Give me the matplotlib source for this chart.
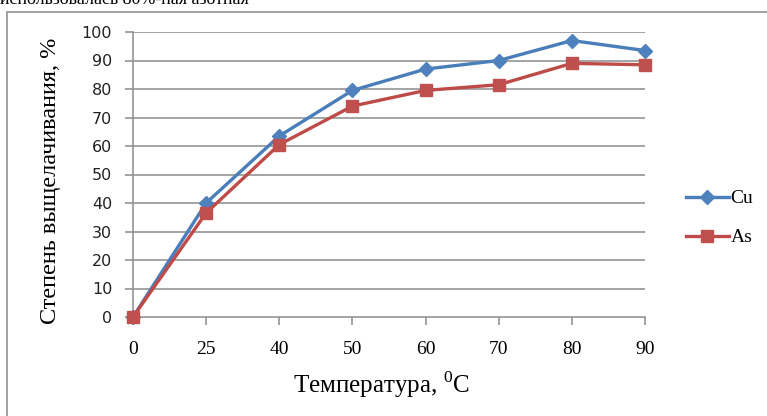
import matplotlib
matplotlib.use("Agg")
import matplotlib.pyplot as plt
from matplotlib.patches import Rectangle
from matplotlib.lines import Line2D

# Leaching temperature (°C) and degree of leaching (%)
temperatures = ["0", "25", "40", "50", "60", "70", "80", "90"]
cu_values = [0, 40, 63.5, 79.5, 87, 90, 97, 93.5]
as_values = [0, 36.5, 60.5, 74, 79.5, 81.5, 89, 88.5]
y_ticks = [0, 10, 20, 30, 40, 50, 60, 70, 80, 90, 100]

plt.rcParams["mathtext.fontset"] = "custom"
plt.rcParams["mathtext.rm"] = "Liberation Serif"
serif = ["Liberation Serif", "DejaVu Serif"]

fig = plt.figure(figsize=(7.67, 4.16), dpi=100)
fig.patch.set_facecolor("white")

# surrounding frame of the chart object
fig.add_artist(Rectangle((7 / 767, -0.1), 1.2, 1 - 12 / 416 + 0.1,
                         transform=fig.transFigure, fill=False,
                         edgecolor="#9a9a9a", linewidth=1.3))

# text line of the page above the chart
fig.text(0.0, 1 - 4 / 416, "использовалась 80%-ная азотная",
         family=serif, fontsize=13, va="baseline", ha="left", color="black")

ax = fig.add_axes([133 / 767, 1 - 317 / 416, (645 - 133) / 767, (317 - 32) / 416])
x = list(range(len(temperatures)))

grid_c = "#8c8c8c"
for v in y_ticks[1:]:
    ax.axhline(v, color=grid_c, linewidth=1.1, zorder=1)

ax.plot(x, cu_values, color="#4A7EBB", linewidth=2.4, marker="D",
        markersize=7.5, markerfacecolor="#4F81BD", markeredgecolor="#4F81BD",
        clip_on=False, zorder=3, label="Cu")
ax.plot(x, as_values, color="#BE4B48", linewidth=2.4, marker="s",
        markersize=9, markerfacecolor="#C0504D", markeredgecolor="#C0504D",
        clip_on=False, zorder=4, label="As")

ax.set_xlim(0, len(temperatures) - 1)
ax.set_ylim(0, 100)
ax.set_xticks(x)
ax.set_xticklabels(temperatures, family=serif, fontsize=14)
ax.set_yticks(y_ticks)
ax.set_yticklabels([str(v) for v in y_ticks], family="DejaVu Sans", fontsize=11.5,
                   color="#222222")

for s in ["top", "right"]:
    ax.spines[s].set_visible(False)
for s in ["left", "bottom"]:
    ax.spines[s].set_color(grid_c)
    ax.spines[s].set_linewidth(1.1)

ax.tick_params(axis="y", direction="out", length=6, width=1.1, color=grid_c, pad=9)
ax.tick_params(axis="x", direction="out", length=6, width=1.1, color=grid_c, pad=11)

xlab = ax.set_xlabel("Температура, $^0$C", family=serif, fontsize=18)
xlab.set_verticalalignment("center")
ax.xaxis.set_label_coords((381 - 133) / 512, -(385 - 317) / 285)
ylab = ax.set_ylabel("Степень выщелачивания, %", family=serif, fontsize=17.5)
ylab.set_verticalalignment("center")
ylab.set_horizontalalignment("center")
ax.yaxis.set_label_coords((51 - 133) / 512, (317 - 180.5) / 285)

handles = [
    Line2D([], [], color="#4A7EBB", linewidth=2.4, marker="D", markersize=7.5,
           markerfacecolor="#4F81BD", markeredgecolor="#4F81BD"),
    Line2D([], [], color="#BE4B48", linewidth=2.4, marker="s", markersize=9,
           markerfacecolor="#C0504D", markeredgecolor="#C0504D"),
]
fig.legend(handles, ["Cu", "As"], loc="center left",
           bbox_to_anchor=(676 / 767, 1 - 218 / 416), frameon=False,
           prop={"family": serif, "size": 14}, handlelength=2.2,
           handletextpad=0.1, labelspacing=1.1, borderpad=0)

fig.savefig("out.png", dpi=100, facecolor="white")
